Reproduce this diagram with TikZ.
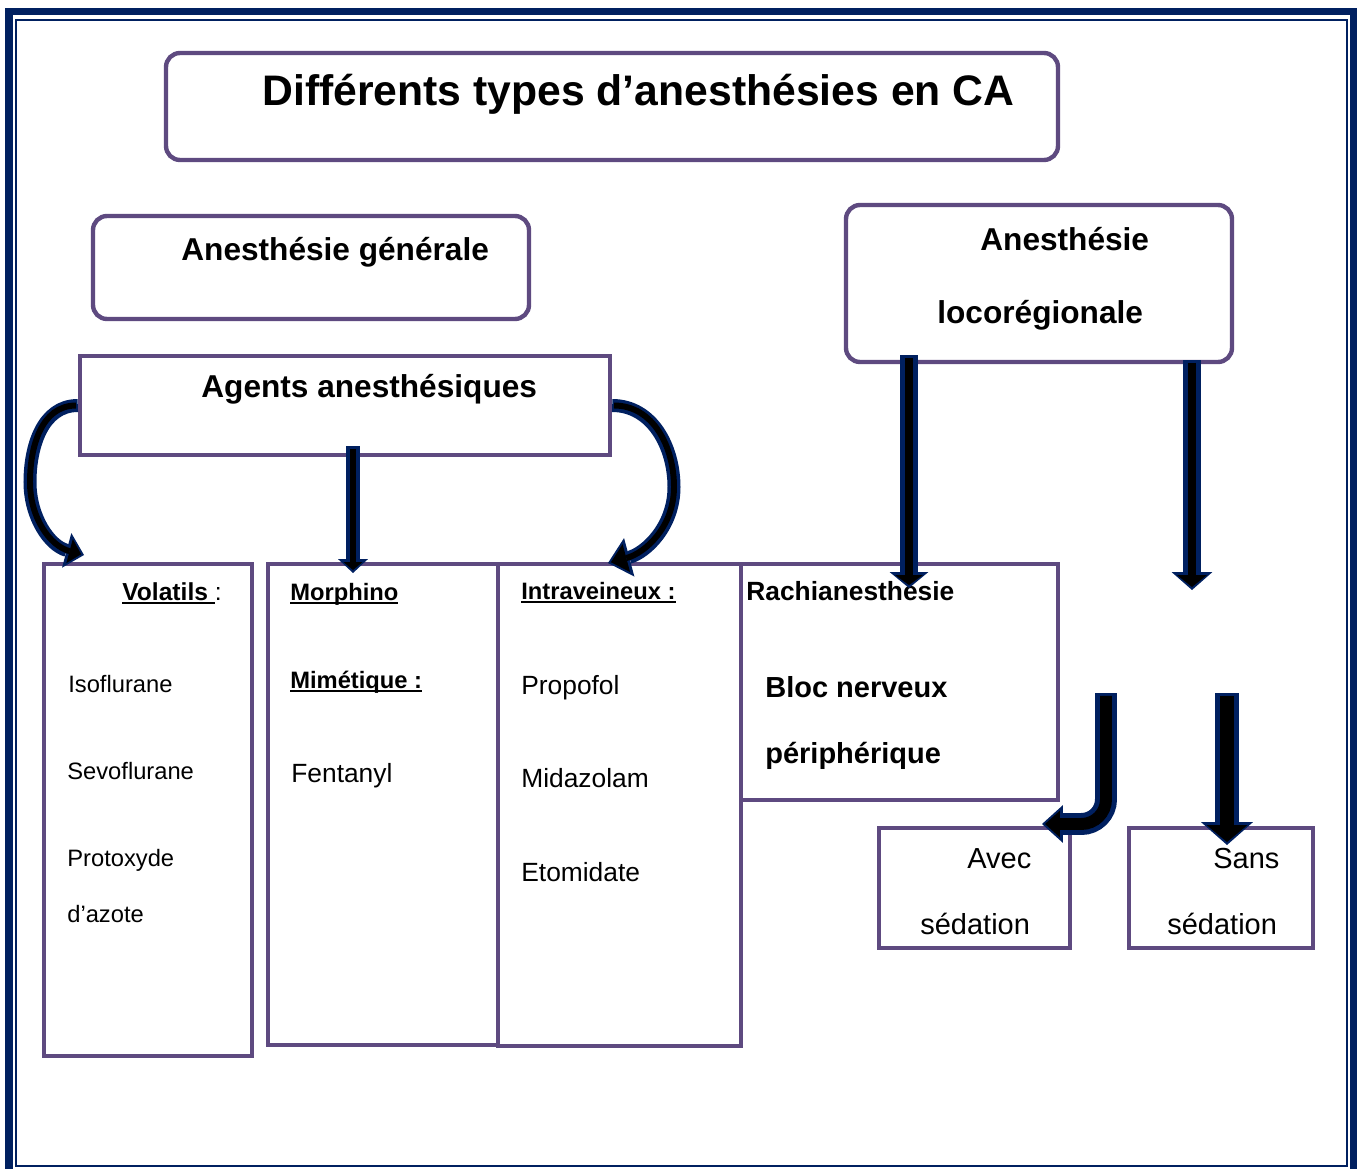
\documentclass[tikz,border=0pt]{standalone}
\usepackage{fontspec}
\setmainfont{Liberation Sans}
\usetikzlibrary{arrows.meta,positioning,fit}

\definecolor{navy}{HTML}{002060}
\definecolor{boxpurple}{HTML}{5E4A80}

% underline with a fixed rule
\newcommand{\undl}[1]{\setbox0\hbox{#1}\rlap{\rule[-2.4pt]{\wd0}{1.1pt}}\box0}

\begin{document}
\begin{tikzpicture}[x=0.02cm, y=-0.02cm,
  box/.style={draw=boxpurple, line width=2.5pt, inner sep=0pt},
  rbox/.style={box, rounded corners=8pt},
  lbl/.style={anchor=base west, inner sep=0pt},
  head/.style={lbl, font=\bfseries\fontsize{18}{20}\selectfont},
  sub/.style={lbl, font=\bfseries\fontsize{#1}{18}\selectfont},
  item/.style={lbl, font=\fontsize{#1}{18}\selectfont}]

\useasboundingbox (0,0) rectangle (1363,1169);

% double frame
\draw[navy, line width=4.3pt] (9,11.5) rectangle (1353.5,1174);
\draw[navy, line width=1.1pt] (16,20) rectangle (1347,1166);

% boxes
\node[rbox, fit={(166,53) (1058,160)}] (title) {};
\node[rbox, fit={(93,216) (529,319)}] (gen) {};
\node[rbox, fit={(846,205) (1232,362)}] (loco) {};
\node[box, fit={(80,356) (610,455)}] (agents) {};
\node[box, fit={(44,564) (252,1056)}] (vol) {};
\node[box, fit={(268,564) (498,1045)}] (morph) {};
\node[box, fit={(498,564) (741,1046)}] (intra) {};
\node[box, fit={(741,564) (1058,800)}] (rachi) {};
\node[box, fit={(879,828) (1070,948)}] (avec) {};
\node[box, fit={(1129,828) (1313,948)}] (sans) {};

% texts
\node[lbl, font=\bfseries\fontsize{24.3}{28}\selectfont] (t-title) at (262,106) {Différents types d’anesthésies en CA};
\node[head] (t-gen) at (181,261) {Anesthésie générale};
\node[head] (t-agents) at (201,398) {Agents anesthésiques};
\node[head] (t-loco1) at (980,251) {Anesthésie};
\node[head] (t-loco2) at (937,323) {locorégionale};

\node[sub=14] (t-vol) at (122,600) {\undl{Volatils\ }\mdseries:};
\node[item=13.5] (t-iso) at (68,692) {Isoflurane};
\node[item=13.5] (t-sevo) at (67,779) {Sevoflurane};
\node[item=13.5] (t-proto) at (67,866) {Protoxyde};
\node[item=13.5] (t-azote) at (67,922) {d’azote};

\node[sub=13.5] (t-morph) at (290,600) {\undl{Morphino}};
\node[sub=13.5] (t-mimet) at (290,688) {\undl{Mimétique :}};
\node[item=15] (t-fenta) at (291,782) {Fentanyl};

\node[sub=13.5] (t-intra) at (521,599) {\undl{Intraveineux :}};
\node[item=15] (t-propo) at (521,694) {Propofol};
\node[item=15] (t-midaz) at (521,787) {Midazolam};
\node[item=15] (t-etomi) at (521,881) {Etomidate};

\node[sub=15] (t-rachi) at (746,600) {Rachianesthésie};
\node[sub=16.5] (t-bloc) at (765,697) {Bloc nerveux};
\node[sub=16.5] (t-periph) at (765,763) {périphérique};

\node[item=16.5] (t-avec) at (967,868) {Avec};
\node[item=16.5] (t-sed1) at (920,934) {sédation};
\node[item=16.5] (t-sans) at (1213,868) {Sans};
\node[item=16.5] (t-sed2) at (1167,934) {sédation};

% arrow ends
\coordinate (a1m) at (30,482);
\coordinate (a1e) at (84,555);
\coordinate (a2m) at (674,487);
\coordinate (a2e) at (608,563);
\coordinate (a3s) at (353,446);
\coordinate (a3e) at (353,573);
\coordinate (a4s) at (909,355);
\coordinate (a4e) at (909,588);
\coordinate (a5s) at (1192,360);
\coordinate (a5e) at (1192,590);
\coordinate (a6s) at (1106,693);
\coordinate (a6c) at (1106,824);
\coordinate (a6e) at (1042,824);
\coordinate (a7s) at (1227,693);
\coordinate (a7e) at (1227,845);

% block arrows: navy outline first
\begin{scope}[navy]
\draw[line width=7.4pt, -{Triangle[length=10.2pt, width=20.4pt, line width=0pt]}]
  (agents.west) to[out=180, in=90] (a1m) to[out=-90, in=165] (a1e);
\draw[line width=7.4pt, -{Triangle[length=12.5pt, width=22.7pt, line width=0pt]}]
  (agents.east) to[out=0, in=90] (a2m) to[out=-90, in=15] (a2e);
\draw[line width=7.9pt, -{Triangle[length=7.9pt, width=17pt, line width=0pt]}] (a3s) -- (a3e);
\draw[line width=10.2pt, -{Triangle[length=9.1pt, width=22.1pt, line width=0pt]}] (a4s) -- (a4e);
\draw[line width=10.8pt, -{Triangle[length=10.2pt, width=23.2pt, line width=0pt]}] (a5s) -- (a5e);
\draw[line width=12.5pt, rounded corners=14pt, -{Triangle[length=11.9pt, width=21.5pt, line width=0pt]}]
  (a6s) -- (a6c) -- (a6e);
\draw[line width=13.6pt, -{Triangle[length=13pt, width=29.5pt, line width=0pt]}] (a7s) -- (a7e);
\end{scope}

% then the black fill
\begin{scope}[black, shorten >=1.7pt]
\draw[line width=3.4pt, -{Triangle[length=6.8pt, width=14.2pt, line width=0pt]}]
  ([xshift=-1pt]agents.west) to[out=180, in=90] (a1m) to[out=-90, in=165] (a1e);
\draw[line width=3.4pt, -{Triangle[length=9.1pt, width=16.4pt, line width=0pt]}]
  ([xshift=1pt]agents.east) to[out=0, in=90] (a2m) to[out=-90, in=15] (a2e);
\draw[line width=3.4pt, -{Triangle[length=4.5pt, width=10.8pt, line width=0pt]}] ([yshift=-1.7pt]a3s) -- (a3e);
\draw[line width=4.5pt, -{Triangle[length=5.7pt, width=15.9pt, line width=0pt]}] ([yshift=-1.7pt]a4s) -- (a4e);
\draw[line width=5.1pt, -{Triangle[length=6.8pt, width=17pt, line width=0pt]}] ([yshift=-1.7pt]a5s) -- (a5e);
\draw[line width=6.8pt, rounded corners=14pt, -{Triangle[length=8.5pt, width=15.3pt, line width=0pt]}]
  ([yshift=-1.7pt]a6s) -- (a6c) -- (a6e);
\draw[line width=7.9pt, -{Triangle[length=9.6pt, width=23.2pt, line width=0pt]}] ([yshift=-1.7pt]a7s) -- (a7e);
\end{scope}

\end{tikzpicture}
\end{document}
